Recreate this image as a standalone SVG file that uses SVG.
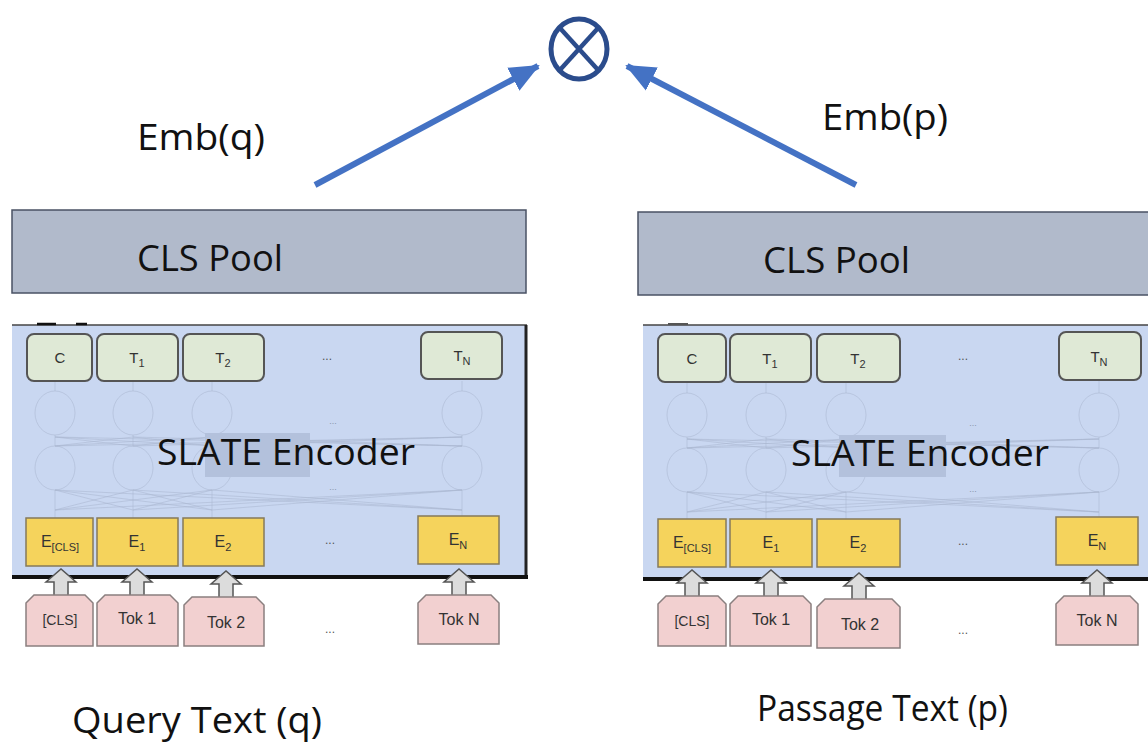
<svg xmlns="http://www.w3.org/2000/svg" width="1148" height="745" viewBox="0 0 1148 745">
<defs>
<style>
.big{font-family:"Open Sans","Liberation Sans",sans-serif;fill:#111}
.sm{font-family:"Liberation Sans",Arial,sans-serif;fill:#333;text-anchor:middle}
.pool{fill:#b1bacb;stroke:#4a5264;stroke-width:1.5}
.panel{fill:#c9d7f1}
.grn{fill:#dfe9d6;stroke:#555;stroke-width:2}
.yel{fill:#f5d35c;stroke:#857a5a;stroke-width:1.5}
.pnk{fill:#f2d0d0;stroke:#8a7f7f;stroke-width:1.5}
.garr{fill:#dcdcdc;stroke:#555;stroke-width:1.5}
.net{fill:none;stroke:#a9b6cf;stroke-width:1;stroke-opacity:0.55}
.dots{font-family:"Liberation Sans",Arial,sans-serif;fill:#555;font-size:12px;text-anchor:middle}
.fdots{font-family:"Liberation Sans",Arial,sans-serif;fill:#8a96ad;font-size:9px;text-anchor:middle}
.conn{stroke:#4472c4;stroke-width:6;fill:none}
</style>
<marker id="ah" markerUnits="userSpaceOnUse" markerWidth="32" markerHeight="32" viewBox="0 0 32 32" refX="28" refY="16" orient="auto">
<path d="M0,3 L30,16 L0,29 Z" fill="#4472c4"/>
</marker>
</defs>
<rect width="1148" height="745" fill="#ffffff"/>

<g id="product">
<ellipse cx="579" cy="49" rx="28" ry="30" fill="none" stroke="#2b4c8c" stroke-width="5"/>
<line x1="559" y1="27" x2="599" y2="71" stroke="#2b4c8c" stroke-width="4.5"/>
<line x1="599" y1="27" x2="559" y2="71" stroke="#2b4c8c" stroke-width="4.5"/>
</g>

<g id="connectors">
<line class="conn" x1="315" y1="185" x2="538" y2="66" marker-end="url(#ah)"/>
<line class="conn" x1="856" y1="185" x2="627" y2="66" marker-end="url(#ah)"/>
</g>

<g id="label-embq"><text class="big" x="137" y="150" font-size="36" textLength="128" lengthAdjust="spacingAndGlyphs">Emb(q)</text></g>
<g id="label-embp"><text class="big" x="822" y="130" font-size="36" textLength="126" lengthAdjust="spacingAndGlyphs">Emb(p)</text></g>

<!-- LEFT -->
<g id="cls-pool-q">
<rect class="pool" x="12" y="210" width="514" height="83"/>
<text class="big" x="137" y="271" font-size="36" textLength="146" lengthAdjust="spacingAndGlyphs">CLS Pool</text>
</g>

<g id="encoder-q">
<rect class="panel" x="12" y="325" width="515" height="252"/>
<line x1="12" y1="325" x2="527" y2="325" stroke="#444" stroke-width="1.5"/>
<line x1="526" y1="325" x2="526" y2="577" stroke="#222" stroke-width="3"/>
<line x1="12" y1="577" x2="528" y2="577" stroke="#111" stroke-width="4"/>
<line x1="37" y1="324" x2="56" y2="324" stroke="#111" stroke-width="2.5"/>
<line x1="76" y1="324" x2="87" y2="324" stroke="#111" stroke-width="2.5"/>
<g class="net">
<ellipse cx="55" cy="413" rx="20" ry="22"/><ellipse cx="133" cy="413" rx="20" ry="22"/><ellipse cx="212" cy="413" rx="20" ry="22"/><ellipse cx="462" cy="413" rx="20" ry="22"/>
<ellipse cx="55" cy="468" rx="20" ry="22"/><ellipse cx="133" cy="468" rx="20" ry="22"/><ellipse cx="212" cy="468" rx="20" ry="22"/><ellipse cx="462" cy="468" rx="20" ry="22"/>
<path d="M55,381V391M133,381V391M212,381V391M462,381V391M55,435V446M133,435V446M212,435V446M462,435V446M55,490V518M133,490V518M212,490V518M462,490V516"/>
<path d="M55,446L133,437M55,446L212,437M55,446L462,437M133,446L55,437M133,446L212,437M133,446L462,437M212,446L55,437M212,446L133,437M212,446L462,437M462,446L55,437M462,446L133,437M462,446L212,437"/>
<path d="M55,510L133,490M55,510L212,490M55,510L462,490M133,510L55,490M133,510L212,490M133,510L462,490M212,510L55,490M212,510L133,490M212,510L462,490M462,510L55,490M462,510L133,490M462,510L212,490"/>
</g>
<text class="fdots" x="333" y="424">...</text>
<text class="fdots" x="333" y="490">...</text>
<rect x="205" y="433" width="105" height="44" fill="#b3c1dc"/>
<text class="big" x="157" y="465" font-size="37" textLength="258" lengthAdjust="spacingAndGlyphs">SLATE Encoder</text>
</g>

<g id="q-C"><rect class="grn" x="27" y="334" width="65" height="47" rx="7"/><text class="sm" x="60" y="363" font-size="15">C</text></g>
<g id="q-T1"><rect class="grn" x="97" y="334" width="81" height="47" rx="7"/><text class="sm" x="137" y="363" font-size="15">T<tspan dy="4" font-size="11">1</tspan></text></g>
<g id="q-T2"><rect class="grn" x="183" y="334" width="81" height="47" rx="7"/><text class="sm" x="223" y="363" font-size="15">T<tspan dy="4" font-size="11">2</tspan></text></g>
<text class="dots" x="327" y="360">...</text>
<g id="q-TN"><rect class="grn" x="421" y="332" width="81" height="47" rx="7"/><text class="sm" x="462" y="361" font-size="15">T<tspan dy="4" font-size="11">N</tspan></text></g>

<g id="q-ECLS"><rect class="yel" x="26" y="518" width="67" height="48"/><text class="sm" x="60" y="547" font-size="16">E<tspan dy="4" font-size="11">[CLS]</tspan></text></g>
<g id="q-E1"><rect class="yel" x="97" y="518" width="81" height="48"/><text class="sm" x="137" y="547" font-size="16">E<tspan dy="4" font-size="11">1</tspan></text></g>
<g id="q-E2"><rect class="yel" x="183" y="518" width="81" height="48"/><text class="sm" x="223" y="547" font-size="16">E<tspan dy="4" font-size="11">2</tspan></text></g>
<text class="dots" x="330" y="544">...</text>
<g id="q-EN"><rect class="yel" x="418" y="516" width="81" height="48"/><text class="sm" x="458" y="545" font-size="16">E<tspan dy="4" font-size="11">N</tspan></text></g>

<g id="q-tokens-arrows">
<path class="garr" d="M54,597V582H46L61,569L76,582H68V597Z"/>
<path class="garr" d="M130,597V582H122L137,569L152,582H144V597Z"/>
<path class="garr" d="M219,599V584H211L226,571L241,584H233V599Z"/>
<path class="garr" d="M452,597V582H444L459,569L474,582H466V597Z"/>
</g>
<g id="q-tokCLS"><path class="pnk" d="M26,603L34,595H85L93,603V646H26Z"/><text class="sm" x="60" y="625" font-size="14">[CLS]</text></g>
<g id="q-tok1"><path class="pnk" d="M97,603L105,595H170L178,603V646H97Z"/><text class="sm" x="137" y="624" font-size="16">Tok 1</text></g>
<g id="q-tok2"><path class="pnk" d="M184,605L192,597H256L264,605V646H184Z"/><text class="sm" x="226" y="628" font-size="16">Tok 2</text></g>
<text class="dots" x="330" y="633">...</text>
<g id="q-tokN"><path class="pnk" d="M418,603L426,595H491L499,603V644H418Z"/><text class="sm" x="459" y="625" font-size="16">Tok N</text></g>

<g id="label-query"><text class="big" x="72" y="733" font-size="37" textLength="250" lengthAdjust="spacingAndGlyphs">Query Text (q)</text></g>

<!-- RIGHT -->
<g id="cls-pool-p">
<rect class="pool" x="638" y="212" width="520" height="83"/>
<text class="big" x="763" y="273" font-size="36" textLength="147" lengthAdjust="spacingAndGlyphs">CLS Pool</text>
</g>

<g id="encoder-p">
<rect class="panel" x="643" y="325" width="515" height="254"/>
<line x1="643" y1="325" x2="1148" y2="325" stroke="#444" stroke-width="1.5"/>
<line x1="643" y1="579" x2="1148" y2="579" stroke="#111" stroke-width="4"/>
<line x1="668" y1="324" x2="688" y2="324" stroke="#555" stroke-width="2"/>
<g class="net">
<ellipse cx="687" cy="415" rx="20" ry="22"/><ellipse cx="766" cy="415" rx="20" ry="22"/><ellipse cx="846" cy="415" rx="20" ry="22"/><ellipse cx="1099" cy="415" rx="20" ry="22"/>
<ellipse cx="687" cy="470" rx="20" ry="22"/><ellipse cx="766" cy="470" rx="20" ry="22"/><ellipse cx="846" cy="470" rx="20" ry="22"/><ellipse cx="1099" cy="470" rx="20" ry="22"/>
<path d="M687,382V393M766,382V393M846,382V393M1099,381V393M687,437V448M766,437V448M846,437V448M1099,437V448M687,492V519M766,492V519M846,492V519M1099,492V517"/>
<path d="M687,448L766,439M687,448L846,439M687,448L1099,439M766,448L687,439M766,448L846,439M766,448L1099,439M846,448L687,439M846,448L766,439M846,448L1099,439M1099,448L687,439M1099,448L766,439M1099,448L846,439"/>
<path d="M687,512L766,492M687,512L846,492M687,512L1099,492M766,512L687,492M766,512L846,492M766,512L1099,492M846,512L687,492M846,512L766,492M846,512L1099,492M1099,512L687,492M1099,512L766,492M1099,512L846,492"/>
</g>
<text class="fdots" x="973" y="426">...</text>
<text class="fdots" x="973" y="492">...</text>
<rect x="839" y="435" width="107" height="42" fill="#b3c1dc"/>
<text class="big" x="791" y="466" font-size="37" textLength="258" lengthAdjust="spacingAndGlyphs">SLATE Encoder</text>
</g>

<g id="p-C"><rect class="grn" x="658" y="334" width="68" height="48" rx="7"/><text class="sm" x="692" y="364" font-size="15">C</text></g>
<g id="p-T1"><rect class="grn" x="730" y="334" width="81" height="48" rx="7"/><text class="sm" x="770" y="364" font-size="15">T<tspan dy="4" font-size="11">1</tspan></text></g>
<g id="p-T2"><rect class="grn" x="817" y="334" width="83" height="48" rx="7"/><text class="sm" x="858" y="364" font-size="15">T<tspan dy="4" font-size="11">2</tspan></text></g>
<text class="dots" x="963" y="360">...</text>
<g id="p-TN"><rect class="grn" x="1059" y="332" width="82" height="48" rx="7"/><text class="sm" x="1099" y="362" font-size="15">T<tspan dy="4" font-size="11">N</tspan></text></g>

<g id="p-ECLS"><rect class="yel" x="658" y="519" width="68" height="48"/><text class="sm" x="692" y="548" font-size="16">E<tspan dy="4" font-size="11">[CLS]</tspan></text></g>
<g id="p-E1"><rect class="yel" x="730" y="519" width="82" height="48"/><text class="sm" x="771" y="548" font-size="16">E<tspan dy="4" font-size="11">1</tspan></text></g>
<g id="p-E2"><rect class="yel" x="817" y="519" width="83" height="48"/><text class="sm" x="858" y="548" font-size="16">E<tspan dy="4" font-size="11">2</tspan></text></g>
<text class="dots" x="963" y="545">...</text>
<g id="p-EN"><rect class="yel" x="1056" y="517" width="82" height="48"/><text class="sm" x="1097" y="546" font-size="16">E<tspan dy="4" font-size="11">N</tspan></text></g>

<g id="p-tokens-arrows">
<path class="garr" d="M685,598V583H677L692,570L707,583H699V598Z"/>
<path class="garr" d="M764,598V583H756L771,570L786,583H778V598Z"/>
<path class="garr" d="M852,601V586H844L859,573L874,586H866V601Z"/>
<path class="garr" d="M1090,598V583H1082L1097,570L1112,583H1104V598Z"/>
</g>
<g id="p-tokCLS"><path class="pnk" d="M658,604L666,596H718L726,604V646H658Z"/><text class="sm" x="692" y="626" font-size="14">[CLS]</text></g>
<g id="p-tok1"><path class="pnk" d="M730,604L738,596H803L811,604V646H730Z"/><text class="sm" x="771" y="625" font-size="16">Tok 1</text></g>
<g id="p-tok2"><path class="pnk" d="M817,607L825,599H892L900,607V648H817Z"/><text class="sm" x="860" y="630" font-size="16">Tok 2</text></g>
<text class="dots" x="963" y="634">...</text>
<g id="p-tokN"><path class="pnk" d="M1056,604L1064,596H1130L1138,604V645H1056Z"/><text class="sm" x="1097" y="626" font-size="16">Tok N</text></g>

<g id="label-passage"><text class="big" x="757" y="721" font-size="36" textLength="251" lengthAdjust="spacingAndGlyphs">Passage Text (p)</text></g>
</svg>
